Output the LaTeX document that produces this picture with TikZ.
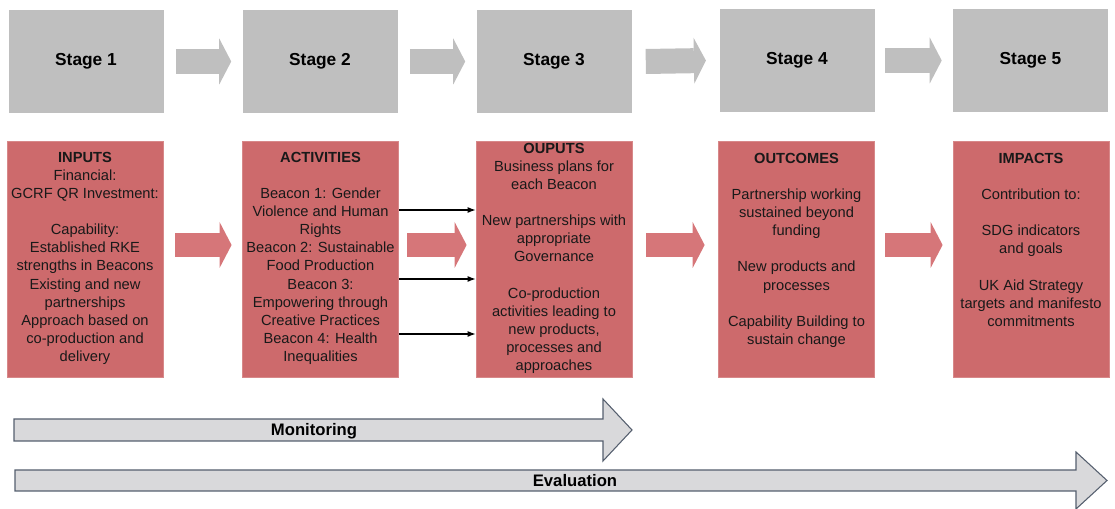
\documentclass[tikz,border=0pt]{standalone}
\usepackage{fontspec}
\setmainfont{Liberation Sans}
\usetikzlibrary{arrows.meta}
\definecolor{stagegray}{RGB}{191,191,191}
\definecolor{boxred}{RGB}{205,106,108}
\definecolor{arrowred}{RGB}{214,118,121}
\definecolor{bargray}{RGB}{217,217,219}
\definecolor{barline}{RGB}{85,95,110}
\tikzstyle{StageNode}=[rectangle, fill=stagegray, minimum width=116.25pt, minimum height=77.25pt, font=\fontsize{13}{15}\selectfont\bfseries]
\tikzstyle{BoxNode}=[rectangle, fill=boxred, draw=boxred!80!white, line width=0.6pt, minimum width=117pt, minimum height=177pt]
\tikzstyle{BoxText}=[anchor=north, inner sep=0pt, align=center, text=black!90, font=\fontsize{11}{13.6}\selectfont]
\tikzstyle{StageEdge}=[stagegray, line width=18.75pt, -{Triangle[length=9pt, width=34.5pt, line width=0pt]}]
\tikzstyle{FlowEdge}=[arrowred, line width=18pt, -{Triangle[length=9pt, width=34.5pt, line width=0pt]}]
\tikzstyle{LinkEdge}=[black, line width=0.8pt, -{Latex[length=6pt, width=4.5pt]}]
\tikzstyle{BarArrow}=[fill=bargray, draw=barline, line width=0.8pt, line join=miter]
\tikzstyle{BarLabel}=[inner sep=0pt, font=\fontsize{12.5}{15}\selectfont\bfseries]

\begin{document}
\begin{tikzpicture}[x=0.75pt, y=-0.75pt]
\useasboundingbox (0,0) rectangle (1115,509);

% stages
\node[StageNode](S1) at (86,61.5) {Stage 1};
\node[StageNode](S2) at (320,61.5) {Stage 2};
\node[StageNode](S3) at (554,61.5) {Stage 3};
\node[StageNode](S4) at (797,60.5) {Stage 4};
\node[StageNode](S5) at (1030.5,60.5) {Stage 5};

\draw[StageEdge]([xshift=9pt]S1.east) -- ([xshift=-8.25pt]S2.west);
\draw[StageEdge]([xshift=9pt]S2.east) -- ([xshift=-8.25pt]S3.west);
\draw[StageEdge]([xshift=10.5pt]S3.east) -- ([xshift=-10pt]S4.west);
\draw[StageEdge]([xshift=8pt]S4.east) -- ([xshift=-8.25pt]S5.west);

% boxes
\node[BoxNode](IN) at (85,259) {};
\node[BoxNode](ACT) at (320.5,259) {};
\node[BoxNode](OUT) at (554,259) {};
\node[BoxNode](OC) at (796.5,259) {};
\node[BoxNode](IMP) at (1031,259) {};

\node[BoxText](INtxt) at ([yshift=-8.25pt]IN.north) {\textbf{INPUTS}\\Financial:\\GCRF QR Investment:\\[13.6pt]Capability:\\Established RKE\\strengths in Beacons\\Existing and new\\partnerships\\Approach based on\\co-production and\\delivery};
\node[BoxText](ACTtxt) at ([yshift=-8.25pt]ACT.north) {\textbf{ACTIVITIES}\\[13.6pt]Beacon 1: Gender\\Violence and Human\\Rights\\Beacon 2: Sustainable\\Food Production\\Beacon 3:\\Empowering through\\Creative Practices\\Beacon 4: Health\\Inequalities};
\node[BoxText](OUTtxt) at ([yshift=-1.5pt]OUT.north) {\textbf{OUPUTS}\\Business plans for\\each Beacon\\[13.6pt]New partnerships with\\appropriate\\Governance\\[13.6pt]Co-production\\activities leading to\\new products,\\processes and\\approaches};
\node[BoxText](OCtxt) at ([yshift=-9pt]OC.north) {\textbf{OUTCOMES}\\[13.6pt]Partnership working\\sustained beyond\\funding\\[13.6pt]New products and\\processes\\[13.6pt]Capability Building to\\sustain change};
\node[BoxText](IMPtxt) at ([yshift=-9pt]IMP.north) {\textbf{IMPACTS}\\[13.6pt]Contribution to:\\[13.6pt]SDG indicators\\and goals\\[13.6pt]UK Aid Strategy\\targets and manifesto\\commitments};

\draw[FlowEdge]([xshift=9pt,yshift=10.5pt]IN.east) -- ([xshift=-7.9pt,yshift=10.5pt]ACT.west);
\draw[FlowEdge]([xshift=6.4pt,yshift=10.5pt]ACT.east) -- ([xshift=-6.75pt,yshift=10.5pt]OUT.west);
\draw[FlowEdge]([xshift=10.5pt,yshift=10.5pt]OUT.east) -- ([xshift=-10.1pt,yshift=10.5pt]OC.west);
\draw[FlowEdge]([xshift=7.9pt,yshift=10.5pt]OC.east) -- ([xshift=-7.5pt,yshift=10.5pt]IMP.west);

\draw[LinkEdge]([yshift=36.75pt]ACT.east) -- ([yshift=36.75pt]OUT.west);
\draw[LinkEdge]([yshift=-15pt]ACT.east) -- ([yshift=-15pt]OUT.west);
\draw[LinkEdge]([yshift=-56.25pt]ACT.east) -- ([yshift=-56.25pt]OUT.west);

% monitoring and evaluation
\draw[BarArrow] (14,419) -- (603,419) -- (603,399) -- (632,430) -- (603,461) -- (603,441) -- (14,441) -- cycle;
\node[BarLabel](MON) at (314,431) {Monitoring};
\draw[BarArrow] (15,470) -- (1076,470) -- (1076,452) -- (1107,480.5) -- (1076,509) -- (1076,491) -- (15,491) -- cycle;
\node[BarLabel](EVAL) at (575,481) {Evaluation};
\end{tikzpicture}
\end{document}
